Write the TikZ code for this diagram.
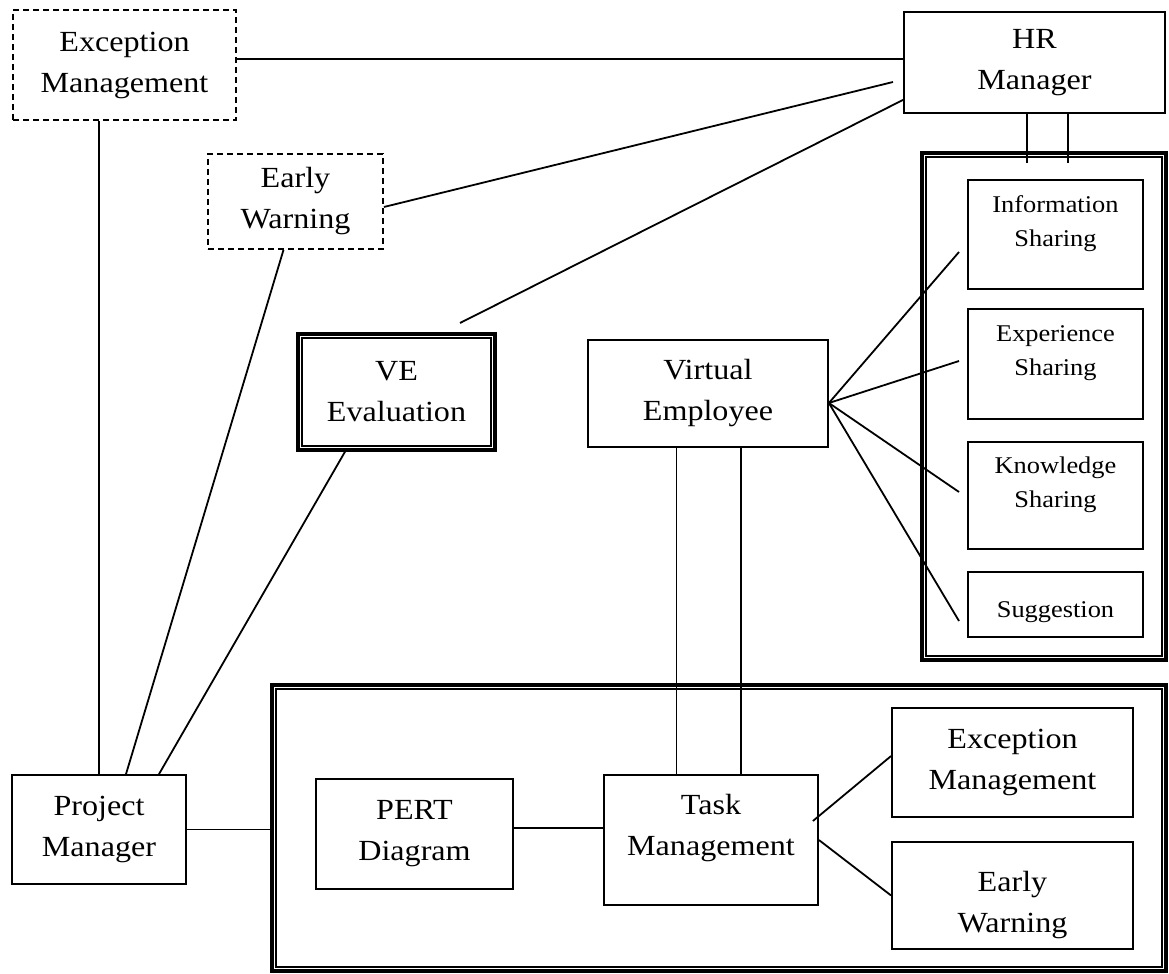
\documentclass[tikz,border=0pt]{standalone}
\usepackage{fontspec}
\setmainfont{Liberation Serif}[FakeStretch=1.1]
\newcommand\bigtxt{\fontsize{14.6}{20.5}\selectfont}
\newcommand\smalltxt{\fontsize{12}{17}\selectfont}
\tikzset{
  plainbox/.style={draw, line width=0.9pt, align=center, font=\bigtxt, inner sep=0pt},
  dashbox/.style={plainbox, dash pattern=on 3pt off 2pt},
  sharebox/.style={plainbox, font=\smalltxt, minimum width=87.5pt},
  dblbox/.style={draw, line width=1.75pt, align=center, font=\bigtxt, inner sep=0pt},
  wire/.style={line width=0.9pt},
}
\begin{document}
\begin{tikzpicture}[x=0.5pt,y=-0.5pt]
\useasboundingbox (0,0) rectangle (1169,974);
\node[dashbox, minimum width=111.5pt, minimum height=55pt] (excTop) at (124.5,65) {Exception\\Management};
\node[dashbox, minimum width=87.5pt, minimum height=47.5pt] (ewTop) at (295.5,201.5) {Early\\Warning};
\node[plainbox, minimum width=130.5pt, minimum height=50.5pt] (hr) at (1034.5,62.5) {HR\\Manager};
\node[dblbox, minimum width=98.5pt, minimum height=58pt] (veEval) at (396.5,392) {VE\\Evaluation};
\node[plainbox, minimum width=120pt, minimum height=53.5pt] (virt) at (708,393.5) {Virtual\\Employee};
\node[plainbox, minimum width=87pt, minimum height=54.5pt] (pm) at (99,829.5) {Project\\Manager};
\node[dblbox, minimum width=122pt, minimum height=253.5pt] (panel) at (1044,406.5) {};
\node[dblbox, minimum width=447pt, minimum height=143pt] (bigBox) at (719,828) {};
\node[sharebox, minimum height=54.5pt, text depth=13.5pt] (info) at (1055.5,234.5) {Information\\Sharing};
\node[sharebox, minimum height=55pt, text depth=13pt] (exp) at (1055.5,364) {Experience\\Sharing};
\node[sharebox, minimum height=53.5pt, text depth=13pt] (know) at (1055.5,495.5) {Knowledge\\Sharing};
\node[sharebox, minimum height=32.5pt, text height=15.5pt, text depth=3pt] (sugg) at (1055.5,604.5) {Suggestion};
\node[plainbox, minimum width=98.5pt, minimum height=55pt] (pert) at (414.5,834) {PERT\\Diagram};
\node[plainbox, minimum width=107pt, minimum height=65pt, text depth=15.5pt] (task) at (711,840) {Task\\Management};
\node[plainbox, minimum width=120.5pt, minimum height=54.5pt] (excBot) at (1012.5,762.5) {Exception\\Management};
\node[plainbox, minimum width=120.5pt, minimum height=53.5pt, text height=40.5pt] (ewBot) at (1012.5,895.5) {Early\\Warning};
\foreach \f in {veEval,panel,bigBox}
  \draw[line width=0.8pt] ([shift={(2.75pt,-2.75pt)}]\f.north west) rectangle ([shift={(-2.75pt,2.75pt)}]\f.south east);
\coordinate (ewHr) at (893,82);
\coordinate (evalHr) at (460,323);
\coordinate (hrPanelA) at (1027,163);
\coordinate (hrPanelB) at (1068,163);
\coordinate (toInfo) at (959,252);
\coordinate (toExp) at (959,361);
\coordinate (toKnow) at (959,492);
\coordinate (toSugg) at (959,621);
\draw[wire] ([yshift=3pt]excTop.east) -- ([yshift=3pt]excTop.east -| hr.west);
\draw[wire] ([yshift=-2.75pt]ewTop.east) -- (ewHr);
\draw[wire] ([yshift=7pt]hr.south west) -- (evalHr);
\draw[wire] (hrPanelA |- hr.south) -- (hrPanelA);
\draw[wire] (hrPanelB |- hr.south) -- (hrPanelB);
\draw[wire] (pm.north) -- (pm.north |- excTop.south);
\draw[wire] ([xshift=-6pt]ewTop.south) -- ([xshift=13.5pt]pm.north);
\draw[wire] ([xshift=-25.75pt]veEval.south) -- ([xshift=30pt]pm.north);
\draw[wire] (pm.east) -- (pm.east -| bigBox.west);
\draw[wire] ([yshift=3pt]pert.east) -- ([yshift=3pt]pert.east -| task.west);
\foreach \dx in {-15.75pt,16.5pt}
  \draw[wire] ([xshift=\dx]virt.south) -- ([xshift=\dx]virt.south |- task.north);
\foreach \t in {toInfo,toExp,toKnow,toSugg}
  \draw[wire] ([yshift=-4.75pt]virt.east) -- (\t);
\draw[wire] ([shift={(-3pt,9.5pt)}]task.east) -- ([yshift=3.25pt]excBot.west);
\draw[wire] (task.east) -- (ewBot.west);
\end{tikzpicture}
\end{document}
